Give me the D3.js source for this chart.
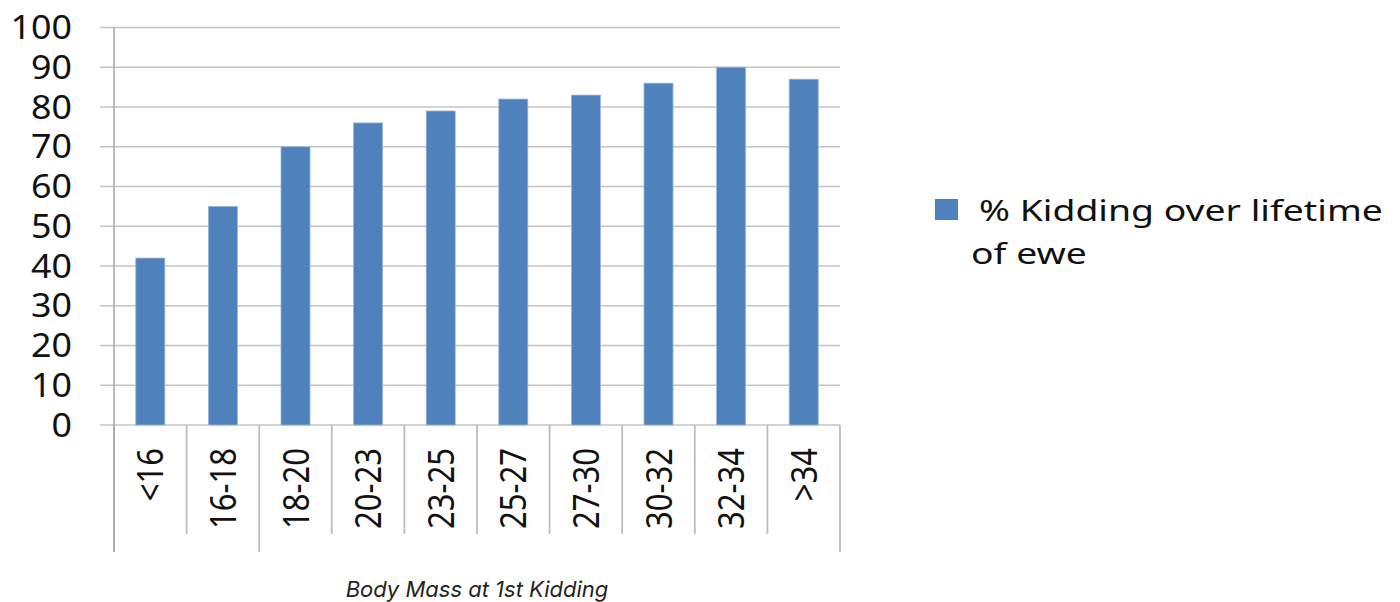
<!DOCTYPE html>
<html>
<head>
<meta charset="utf-8">
<script src="https://cdn.jsdelivr.net/npm/d3@7"></script>
<style>
  html, body { margin: 0; padding: 0; background: #fff; }
  svg { display: block; }
</style>
</head>
<body>
<div id="chart"></div>
<script>
// data
const categories = ['<16', '16-18', '18-20', '20-23', '23-25', '25-27', '27-30', '30-32', '32-34', '>34']
const kidding = [42, 55, 70, 76, 79, 82, 83, 86, 90, 87]
const yTicks = [0, 10, 20, 30, 40, 50, 60, 70, 80, 90, 100]
const seriesName = ['% Kidding over lifetime', 'of ewe']
const xTitle = 'Body Mass at 1st Kidding'

const W = 1400, H = 602
const blue = '#4f81bd'
const font = "'Noto Sans', 'DejaVu Sans', sans-serif"

const svg = d3.select('#chart').append('svg')
    .attr('width', W)
    .attr('height', H)

// plot box
const plotLeft = 114, plotRight = 840, plotTop = 27.5, plotBottom = 425

const x = d3.scaleBand()
    .domain(categories)
    .range([plotLeft, plotRight])
    .paddingInner(0.6)
    .paddingOuter(0.3)

const y = d3.scaleLinear()
    .domain([0, 100])
    .range([plotBottom, plotTop])

// gridlines (also the category axis at 0)
svg.append('g')
    .selectAll('line')
    .data(yTicks)
    .join('line')
    .attr('x1', plotLeft - 14)
    .attr('x2', plotRight)
    .attr('y1', d => y(d))
    .attr('y2', d => y(d))
    .attr('stroke', '#c4c4c4')
    .attr('stroke-width', 1.6)

// y tick labels
svg.append('g')
    .selectAll('text')
    .data(yTicks)
    .join('text')
    .attr('transform', d => 'translate(72,' + y(d) + ') scale(1.12,1)')
    .attr('text-anchor', 'end')
    .attr('dy', '0.36em')
    .attr('font-family', font)
    .attr('font-size', 32)
    .attr('fill', '#111')
    .text(d => d)

// category separators below the axis
const step = x.step()
const bounds = d3.range(categories.length + 1)
const longOnes = [0, 2, categories.length]
svg.append('g')
    .selectAll('line')
    .data(bounds)
    .join('line')
    .attr('x1', i => plotLeft + i * step)
    .attr('x2', i => plotLeft + i * step)
    .attr('y1', plotBottom)
    .attr('y2', i => longOnes.includes(i) ? 552 : 534)
    .attr('stroke', '#bdbdbd')
    .attr('stroke-width', 1.8)

// value axis line
svg.append('line')
    .attr('x1', plotLeft).attr('x2', plotLeft)
    .attr('y1', plotTop).attr('y2', 552)
    .attr('stroke', '#a9a9a9')
    .attr('stroke-width', 1.6)

// bars
svg.append('g')
    .selectAll('rect')
    .data(kidding)
    .join('rect')
    .attr('x', (d, i) => x(categories[i]))
    .attr('y', d => y(d))
    .attr('width', x.bandwidth())
    .attr('height', d => y(0) - y(d))
    .attr('fill', blue)
    .attr('stroke', '#9bb7da')
    .attr('stroke-width', 0.8)

// rotated category labels
svg.append('g')
    .selectAll('text')
    .data(categories)
    .join('text')
    .attr('transform', d => 'translate(' + (x(d) + x.bandwidth() / 2) + ',448) scale(1.18,1) rotate(-90)')
    .attr('text-anchor', 'end')
    .attr('dy', '0.36em')
    .attr('font-family', font)
    .attr('font-size', 31)
    .attr('fill', '#111')
    .text(d => d)

// axis title
svg.append('text')
    .attr('x', (plotLeft + plotRight) / 2)
    .attr('y', 597)
    .attr('text-anchor', 'middle')
    .attr('font-family', "Inter, 'Noto Sans', sans-serif")
    .attr('font-style', 'italic')
    .attr('font-size', 22)
    .attr('fill', '#222')
    .text(xTitle)

// legend
const legend = svg.append('g')
legend.append('rect')
    .attr('x', 935)
    .attr('y', 199)
    .attr('width', 23)
    .attr('height', 21)
    .attr('fill', blue)

legend.selectAll('text')
    .data(seriesName)
    .join('text')
    .attr('transform', (d, i) => 'translate(' + (i === 0 ? 979 : 971) + ',' + (i === 0 ? 221 : 264) + ') scale(1.31,1)')
    .attr('font-family', font)
    .attr('font-size', 28.5)
    .attr('fill', '#111')
    .text(d => d)
</script>
</body>
</html>
